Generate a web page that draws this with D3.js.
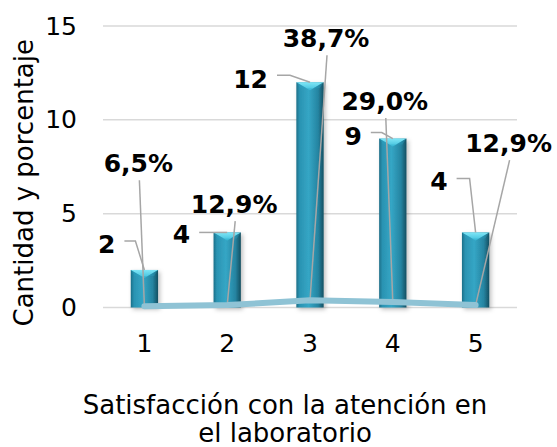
<!DOCTYPE html>
<html>
<head>
<meta charset="utf-8">
<script src="https://cdn.jsdelivr.net/npm/d3@7"></script>
<style>
  html, body { margin: 0; padding: 0; background: #ffffff; }
  svg { display: block; }
  text { font-family: "DejaVu Sans", Verdana, sans-serif; fill: #000; }
</style>
</head>
<body>
<svg id="chart" width="557" height="447"></svg>
<script>
// Satisfaction levels and their counts / shares
const categories = ["1", "2", "3", "4", "5"];
const counts = [2, 4, 12, 9, 4];
const shares = [0.065, 0.129, 0.387, 0.290, 0.129];
const shareLabels = ["6,5%", "12,9%", "38,7%", "29,0%", "12,9%"];
const yTicks = [0, 5, 10, 15];

// Label placement (pixel offsets from the mark each label belongs to)
const countLabelOffset = [[-29, -17], [-37, 11], [-42, 6], [-31, 6], [-28, -42]];
const countElbowOffset = [[-9, -29], [-7, 0], [-20, -7], [-11, -6], [-6, -54]];
const shareLabelOffset = [[-6, -134], [7, -92], [16, -253], [-8, -192], [33, -153]];

const svg = d3.select("#chart");
const margin = { left: 103, right: 40, top: 26, bottom: 139.5 };
const W = 557, H = 447;

const x = d3.scaleBand()
  .domain(categories)
  .range([margin.left, W - margin.right])
  .paddingInner(0.67)
  .paddingOuter(0.335);
const y = d3.scaleLinear().domain([0, 15]).range([H - margin.bottom, margin.top]);
const cx = c => x(c) + x.bandwidth() / 2;

const defs = svg.append("defs");
const grad = defs.append("linearGradient").attr("id", "barGrad")
  .attr("x1", "0").attr("x2", "1").attr("y1", "0").attr("y2", "0");
[["0%", "#1b6f88"], ["12%", "#2a93b2"], ["45%", "#35a6c5"], ["80%", "#2584a1"], ["100%", "#144f61"]]
  .forEach(([o, c]) => grad.append("stop").attr("offset", o).attr("stop-color", c));
const topGrad = defs.append("linearGradient").attr("id", "topGrad")
  .attr("x1", "0").attr("x2", "0").attr("y1", "0").attr("y2", "1");
topGrad.append("stop").attr("offset", "0%").attr("stop-color", "#7fe6f6");
topGrad.append("stop").attr("offset", "100%").attr("stop-color", "#3fbfdc");
const shadow = defs.append("filter").attr("id", "shadow")
  .attr("x", "-30%").attr("y", "-10%").attr("width", "170%").attr("height", "130%");
shadow.append("feDropShadow").attr("dx", 2).attr("dy", 2).attr("stdDeviation", 2)
  .attr("flood-color", "#000").attr("flood-opacity", 0.25);

// Gridlines
svg.append("g").selectAll("line").data(yTicks).join("line")
  .attr("x1", margin.left).attr("x2", W - margin.right)
  .attr("y1", d => y(d)).attr("y2", d => y(d))
  .attr("stroke", "#d9d9d9").attr("stroke-width", 1.5);

// Y axis tick labels
const yAxis = d3.axisLeft(y).tickValues(yTicks).tickSize(0).tickPadding(0);
svg.append("g").attr("transform", `translate(${margin.left - 26},0)`).call(yAxis)
  .call(g => g.select(".domain").remove())
  .call(g => g.selectAll("text").attr("font-size", 25)
    .attr("font-family", "DejaVu Sans, Verdana, sans-serif").attr("fill", "#000"));

// X axis tick labels
const xAxis = d3.axisBottom(x).tickSize(0).tickPadding(0);
svg.append("g").attr("transform", `translate(0,${y(0) + 27})`).call(xAxis)
  .call(g => g.select(".domain").remove())
  .call(g => g.selectAll("text").attr("font-size", 25)
    .attr("font-family", "DejaVu Sans, Verdana, sans-serif").attr("fill", "#000"));

// Bars with bevelled tops
const bars = svg.append("g").selectAll("g").data(categories).join("g")
  .attr("filter", "url(#shadow)");
bars.append("rect")
  .attr("x", c => x(c)).attr("width", x.bandwidth())
  .attr("y", (c, i) => y(counts[i])).attr("height", (c, i) => y(0) - y(counts[i]))
  .attr("fill", "url(#barGrad)");
svg.append("g").selectAll("path").data(categories).join("path")
  .attr("d", (c, i) => {
    const x0 = x(c), x1 = x(c) + x.bandwidth(), t = y(counts[i]);
    return `M${x0},${t}L${x1},${t}L${cx(c)},${t + 8}Z`;
  })
  .attr("fill", "url(#topGrad)");
svg.append("g").selectAll("path").data(categories).join("path")
  .attr("d", (c, i) => {
    const x0 = x(c), x1 = x(c) + x.bandwidth(), t = y(counts[i]);
    return `M${x0},${t}L${x0 + 4},${t + 6}L${x1 - 4},${t + 6}L${x1},${t}L${cx(c)},${t + 8}Z`;
  })
  .attr("fill", "#2ba3c2").attr("opacity", 0.35);

// Leader lines for count labels
const leader = { stroke: "#a6a6a6", width: 1.5 };
svg.append("g").selectAll("path").data(categories).join("path")
  .attr("d", (c, i) => {
    const ax = cx(c), ay = y(counts[i]);
    const lx = ax + countLabelOffset[i][0] + 9;
    const ex = ax + countElbowOffset[i][0], ey = ay + countElbowOffset[i][1];
    return `M${lx},${ey}L${ex},${ey}L${ax},${ay}`;
  })
  .attr("fill", "none").attr("stroke", leader.stroke).attr("stroke-width", leader.width);

// Leader lines for share labels
svg.append("g").selectAll("line").data(categories).join("line")
  .attr("x1", (c, i) => cx(c) + shareLabelOffset[i][0] + 1)
  .attr("y1", (c, i) => y(shares[i]) + shareLabelOffset[i][1] + 8)
  .attr("x2", c => cx(c))
  .attr("y2", (c, i) => y(shares[i]))
  .attr("stroke", leader.stroke).attr("stroke-width", leader.width);

// Share line
const line = d3.line().x((d, i) => cx(categories[i])).y(d => y(d));
svg.append("path").datum(shares)
  .attr("d", line)
  .attr("fill", "none").attr("stroke", "#8fc3d5").attr("stroke-width", 6)
  .attr("stroke-linecap", "round").attr("stroke-linejoin", "round");

// Count labels
svg.append("g").selectAll("text").data(categories).join("text")
  .attr("x", (c, i) => cx(c) + countLabelOffset[i][0])
  .attr("y", (c, i) => y(counts[i]) + countLabelOffset[i][1])
  .attr("text-anchor", "end").attr("font-size", 25).attr("font-weight", "bold")
  .text((c, i) => counts[i]);

// Share labels
svg.append("g").selectAll("text").data(categories).join("text")
  .attr("x", (c, i) => cx(c) + shareLabelOffset[i][0])
  .attr("y", (c, i) => y(shares[i]) + shareLabelOffset[i][1])
  .attr("text-anchor", "middle").attr("font-size", 25).attr("font-weight", "bold")
  .text((c, i) => shareLabels[i]);

// Axis titles
svg.append("text")
  .attr("transform", `translate(33,${(y(0) + y(15)) / 2 + 16}) rotate(-90)`)
  .attr("text-anchor", "middle").attr("font-size", 26)
  .text("Cantidad y porcentaje");
const xt = svg.append("text").attr("text-anchor", "middle").attr("font-size", 26);
xt.append("tspan").attr("x", 285).attr("y", 414).text("Satisfacción con la atención en");
xt.append("tspan").attr("x", 285).attr("y", 442).text("el laboratorio");
</script>
</body>
</html>
